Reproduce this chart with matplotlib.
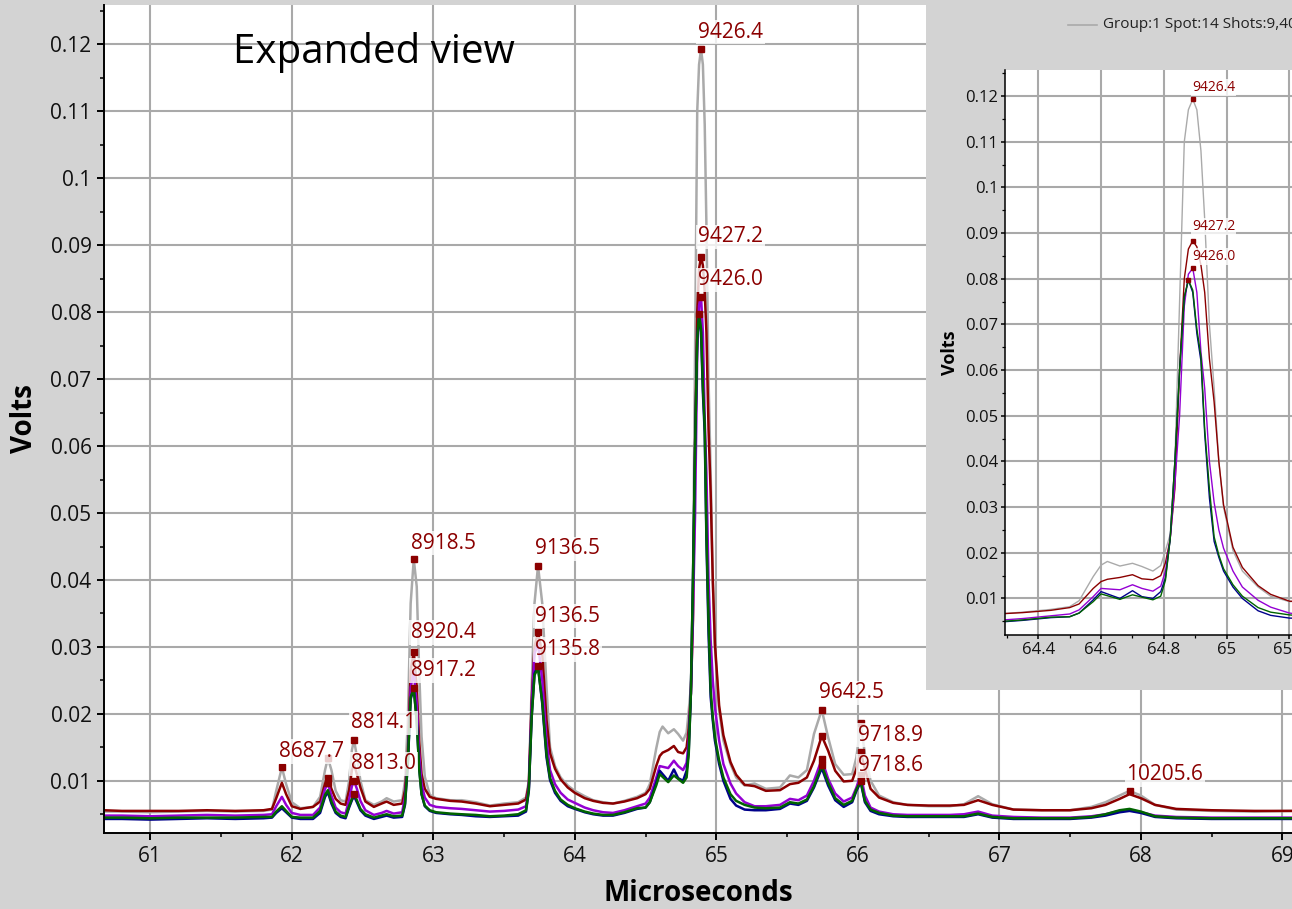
import matplotlib
matplotlib.use("Agg")
import matplotlib.pyplot as plt
from matplotlib.patches import Rectangle
from matplotlib.lines import Line2D
from matplotlib.ticker import MultipleLocator, FormatStrFormatter

plt.rcParams['font.family'] = ['Open Sans', 'DejaVu Sans']

# flight time in microseconds, shared by every trace
time_us = (
    [60.67, 60.8, 61.0, 61.2, 61.4, 61.6, 61.8, 61.86]
    + [61.89, 61.93, 61.96, 62.0, 62.06, 62.15, 62.2]
    + [62.235, 62.255, 62.28, 62.31, 62.345, 62.38, 62.405]
    + [62.425, 62.44, 62.46, 62.485, 62.52, 62.58, 62.635, 62.67, 62.72, 62.78, 62.80]
    + [62.82, 62.84, 62.862, 62.883, 62.90, 62.917, 62.94, 62.975, 63.02, 63.12]
    + [63.2, 63.3, 63.4, 63.5, 63.6, 63.655]
    + [63.675, 63.695, 63.715, 63.74, 63.77, 63.80, 63.825, 63.86, 63.9, 63.95, 64.0, 64.07, 64.13, 64.2, 64.27, 64.35, 64.44]
    + [64.5, 64.53, 64.575, 64.60, 64.62, 64.66, 64.70, 64.73, 64.765, 64.79, 64.805]
    + [64.82, 64.835, 64.85, 64.865, 64.878, 64.892, 64.905, 64.918, 64.93, 64.945, 64.96, 64.975, 64.99, 65.02, 65.05, 65.1, 65.14, 65.2]
    + [65.27, 65.35, 65.45, 65.52, 65.58, 65.64, 65.69, 65.745, 65.79, 65.84, 65.9, 65.96, 65.99, 66.02, 66.05, 66.09]
    + [66.15, 66.25, 66.35, 66.5, 66.65, 66.75, 66.85, 66.95, 67.1, 67.3, 67.5, 67.65, 67.75, 67.85, 67.92, 68.0, 68.1, 68.25, 68.5, 68.8, 69.07]
)

volts_gray = (
    [0.0054, 0.0054, 0.0053, 0.0054, 0.0055, 0.0054, 0.0055, 0.0057]
    + [0.0085, 0.0120, 0.0095, 0.0068, 0.0059, 0.0061, 0.0076]
    + [0.0116, 0.0134, 0.0116, 0.0085, 0.0071, 0.0069, 0.0100]
    + [0.0146, 0.0161, 0.0136, 0.0100, 0.0071, 0.0064, 0.0069, 0.0074, 0.0069, 0.0071, 0.0100]
    + [0.0190, 0.0365, 0.0431, 0.0390, 0.0265, 0.0166, 0.0106, 0.0079, 0.0074, 0.0071]
    + [0.0071, 0.0068, 0.0063, 0.0066, 0.0068, 0.0075]
    + [0.0100, 0.0240, 0.0365, 0.0421, 0.0365, 0.0240, 0.0150, 0.0122, 0.0105, 0.0093, 0.0085, 0.0077, 0.0071, 0.0068, 0.0066, 0.0070, 0.0076]
    + [0.0082, 0.0095, 0.0148, 0.0173, 0.0181, 0.0171, 0.0177, 0.0170, 0.0160, 0.0172, 0.0205]
    + [0.0240, 0.0400, 0.0750, 0.1100, 0.1170, 0.1193, 0.1170, 0.1080, 0.0930, 0.0700, 0.0560, 0.0400, 0.0300, 0.0205, 0.0160, 0.0125, 0.0105, 0.0093]
    + [0.0096, 0.0088, 0.0090, 0.0108, 0.0105, 0.0116, 0.0170, 0.0206, 0.0165, 0.0125, 0.0109, 0.0110, 0.0135, 0.0186, 0.0140, 0.0100]
    + [0.0078, 0.0068, 0.0064, 0.0062, 0.0062, 0.0065, 0.0077, 0.0065, 0.0057, 0.0056, 0.0056, 0.0061, 0.0068, 0.0078, 0.0085, 0.0078, 0.0064, 0.0057, 0.0055, 0.0054, 0.0055]
)

volts_red = (
    [0.0056, 0.0055, 0.0055, 0.0055, 0.0056, 0.0055, 0.0056, 0.0058]
    + [0.0074, 0.0097, 0.0080, 0.0062, 0.0058, 0.0061, 0.0069]
    + [0.0096, 0.0104, 0.0088, 0.0073, 0.0066, 0.0064, 0.0086]
    + [0.0116, 0.0125, 0.0110, 0.0090, 0.0069, 0.0061, 0.0066, 0.0069, 0.0064, 0.0066, 0.0086]
    + [0.0141, 0.0265, 0.0293, 0.0240, 0.0160, 0.0110, 0.0088, 0.0076, 0.0073, 0.0070]
    + [0.0069, 0.0066, 0.0062, 0.0064, 0.0066, 0.0072]
    + [0.0095, 0.0220, 0.0300, 0.0322, 0.0290, 0.0191, 0.0141, 0.0118, 0.0102, 0.0090, 0.0082, 0.0074, 0.0070, 0.0067, 0.0066, 0.0069, 0.0074]
    + [0.0080, 0.0088, 0.0122, 0.0137, 0.0142, 0.0146, 0.0152, 0.0143, 0.0141, 0.0150, 0.0178]
    + [0.0230, 0.0340, 0.0600, 0.0800, 0.0865, 0.0883, 0.0870, 0.0830, 0.0770, 0.0625, 0.0530, 0.0400, 0.0305, 0.0212, 0.0168, 0.0128, 0.0109, 0.0094]
    + [0.0092, 0.0085, 0.0086, 0.0095, 0.0097, 0.0105, 0.0130, 0.0167, 0.0145, 0.0115, 0.0099, 0.0100, 0.0118, 0.0143, 0.0118, 0.0088]
    + [0.0075, 0.0067, 0.0064, 0.0063, 0.0063, 0.0064, 0.0071, 0.0064, 0.0057, 0.0056, 0.0056, 0.0059, 0.0064, 0.0073, 0.0080, 0.0074, 0.0064, 0.0058, 0.0056, 0.0055, 0.0055]
)

volts_purple = (
    [0.0048, 0.0048, 0.0047, 0.0048, 0.0049, 0.0048, 0.0049, 0.0050]
    + [0.0062, 0.0076, 0.0064, 0.0052, 0.0049, 0.0049, 0.0060]
    + [0.0088, 0.0096, 0.0078, 0.0060, 0.0053, 0.0051, 0.0072]
    + [0.0092, 0.0100, 0.0088, 0.0070, 0.0056, 0.0049, 0.0052, 0.0055, 0.0051, 0.0053, 0.0076]
    + [0.0130, 0.0240, 0.0262, 0.0215, 0.0140, 0.0095, 0.0075, 0.0064, 0.0061, 0.0059]
    + [0.0058, 0.0056, 0.0054, 0.0055, 0.0057, 0.0062]
    + [0.0090, 0.0210, 0.0290, 0.0305, 0.0250, 0.0160, 0.0116, 0.0095, 0.0082, 0.0072, 0.0067, 0.0060, 0.0056, 0.0053, 0.0052, 0.0056, 0.0062]
    + [0.0066, 0.0075, 0.0104, 0.0122, 0.0121, 0.0119, 0.0130, 0.0122, 0.0116, 0.0127, 0.0160]
    + [0.0230, 0.0350, 0.0500, 0.0740, 0.0810, 0.0823, 0.0770, 0.0640, 0.0560, 0.0400, 0.0310, 0.0250, 0.0210, 0.0160, 0.0125, 0.0096, 0.0081, 0.0068]
    + [0.0062, 0.0062, 0.0064, 0.0073, 0.0071, 0.0078, 0.0100, 0.0132, 0.0103, 0.0081, 0.0069, 0.0075, 0.0090, 0.0109, 0.0078, 0.0060]
    + [0.0054, 0.0050, 0.0049, 0.0049, 0.0049, 0.0050, 0.0054, 0.0048, 0.0046, 0.0045, 0.0045, 0.0047, 0.0050, 0.0055, 0.0056, 0.0053, 0.0048, 0.0046, 0.0045, 0.0045, 0.0045]
)

volts_blue = (
    [0.0043, 0.0043, 0.0042, 0.0043, 0.0044, 0.0043, 0.0044, 0.0045]
    + [0.0052, 0.0059, 0.0053, 0.0045, 0.0043, 0.0043, 0.0052]
    + [0.0076, 0.0083, 0.0066, 0.0052, 0.0046, 0.0044, 0.0060]
    + [0.0071, 0.0077, 0.0068, 0.0056, 0.0048, 0.0043, 0.0046, 0.0048, 0.0045, 0.0046, 0.0064]
    + [0.0125, 0.0222, 0.0238, 0.0190, 0.0120, 0.0080, 0.0062, 0.0055, 0.0052, 0.0050]
    + [0.0049, 0.0047, 0.0046, 0.0047, 0.0048, 0.0054]
    + [0.0085, 0.0195, 0.0260, 0.0272, 0.0215, 0.0135, 0.0101, 0.0082, 0.0070, 0.0062, 0.0058, 0.0053, 0.0050, 0.0048, 0.0048, 0.0052, 0.0058]
    + [0.0060, 0.0068, 0.0097, 0.0115, 0.0110, 0.0100, 0.0117, 0.0104, 0.0100, 0.0115, 0.0145]
    + [0.0230, 0.0400, 0.0600, 0.0760, 0.0797, 0.0770, 0.0680, 0.0620, 0.0460, 0.0320, 0.0225, 0.0190, 0.0160, 0.0125, 0.0100, 0.0073, 0.0063, 0.0057]
    + [0.0056, 0.0056, 0.0058, 0.0066, 0.0064, 0.0070, 0.0090, 0.0119, 0.0093, 0.0071, 0.0061, 0.0068, 0.0085, 0.0098, 0.0068, 0.0055]
    + [0.0050, 0.0047, 0.0046, 0.0046, 0.0046, 0.0046, 0.0050, 0.0045, 0.0043, 0.0043, 0.0043, 0.0045, 0.0048, 0.0053, 0.0055, 0.0052, 0.0046, 0.0044, 0.0043, 0.0043, 0.0043]
)

volts_green = (
    [0.0045, 0.0045, 0.0044, 0.0045, 0.0045, 0.0045, 0.0046, 0.0046]
    + [0.0054, 0.0062, 0.0055, 0.0046, 0.0045, 0.0045, 0.0055]
    + [0.0079, 0.0086, 0.0069, 0.0054, 0.0048, 0.0046, 0.0062]
    + [0.0073, 0.0080, 0.0071, 0.0058, 0.0050, 0.0045, 0.0048, 0.0050, 0.0047, 0.0048, 0.0066]
    + [0.0128, 0.0225, 0.0238, 0.0188, 0.0118, 0.0080, 0.0063, 0.0056, 0.0053, 0.0051]
    + [0.0050, 0.0049, 0.0047, 0.0048, 0.0050, 0.0056]
    + [0.0087, 0.0195, 0.0258, 0.0268, 0.0218, 0.0140, 0.0104, 0.0085, 0.0072, 0.0064, 0.0059, 0.0054, 0.0051, 0.0049, 0.0049, 0.0053, 0.0059]
    + [0.0060, 0.0068, 0.0093, 0.0110, 0.0106, 0.0098, 0.0108, 0.0103, 0.0097, 0.0105, 0.0140]
    + [0.0230, 0.0400, 0.0600, 0.0760, 0.0797, 0.0775, 0.0690, 0.0630, 0.0470, 0.0340, 0.0235, 0.0195, 0.0165, 0.0130, 0.0105, 0.0080, 0.0070, 0.0064]
    + [0.0060, 0.0059, 0.0060, 0.0068, 0.0066, 0.0072, 0.0092, 0.0123, 0.0097, 0.0074, 0.0064, 0.0070, 0.0087, 0.0100, 0.0070, 0.0057]
    + [0.0052, 0.0048, 0.0047, 0.0047, 0.0047, 0.0047, 0.0051, 0.0046, 0.0044, 0.0044, 0.0044, 0.0046, 0.0050, 0.0056, 0.0058, 0.0054, 0.0047, 0.0045, 0.0044, 0.0044, 0.0044]
)

# peak picks: which trace and at what time
mark_trace = ['gray',
              'gray', 'red', 'purple',
              'gray', 'purple', 'green',
              'gray', 'red', 'green',
              'gray', 'red', 'blue',
              'gray', 'red', 'purple', 'blue',
              'gray', 'red', 'purple', 'green',
              'gray', 'red', 'purple', 'green',
              'gray']
mark_time = [61.93,
             62.255, 62.255, 62.255,
             62.44, 62.44, 62.44,
             62.862, 62.862, 62.862,
             63.74, 63.74, 63.74,
             64.892, 64.892, 64.892, 64.878,
             65.745, 65.745, 65.745, 65.745,
             66.02, 66.02, 66.02, 66.02,
             67.92]

# mass labels attached to some of the picks
label_text = ['8687.7', '8814.1', '8813.0', '8918.5', '8920.4', '8917.2',
              '9136.5', '9136.5', '9135.8', '9426.4', '9427.2', '9426.0',
              '9642.5', '9718.9', '9718.6', '10205.6']
label_trace = ['gray', 'gray', 'purple', 'gray', 'red', 'green',
               'gray', 'red', 'blue', 'gray', 'red', 'purple',
               'gray', 'red', 'purple', 'gray']
label_time = [61.93, 62.44, 62.44, 62.862, 62.862, 62.862,
              63.74, 63.74, 63.74, 64.892, 64.892, 64.892,
              65.745, 66.02, 66.02, 67.92]
label_rise_px = [16, 17, 17, 16, 19, 18, 17, 16, 16, 17, 20, 17, 17, 17, 9, 16]

legend_text = 'Group:1 Spot:14 Shots:9,400'
legend_text_prev = 'Group:1 Spot:13 Shots:9,400'

traces = {
    'gray': volts_gray,
    'red': volts_red,
    'purple': volts_purple,
    'blue': volts_blue,
    'green': volts_green,
}
for v in traces.values():
    assert len(v) == len(time_us)

colors = {'gray': '#aaaaaa', 'red': '#8b0000', 'purple': '#9400d3',
          'blue': '#00008b', 'green': '#006400'}
bg = '#d3d3d3'
grid_c = '#a9a9a9'
peak_c = '#8b0000'


def value_at(trace, t):
    return traces[trace][time_us.index(t)]


def style_axes(a, major_len, minor_len, width, size, pad):
    a.set_facecolor('white')
    for s in ['top', 'right']:
        a.spines[s].set_visible(False)
    for s in ['left', 'bottom']:
        a.spines[s].set_linewidth(width)
        a.spines[s].set_color('black')
    a.grid(True, which='major', color=grid_c, lw=1.5)
    a.set_axisbelow(True)
    a.tick_params(which='major', length=major_len, width=width, labelsize=size,
                  pad=pad, colors='black', labelcolor='#111111')
    a.tick_params(which='minor', length=minor_len, width=width * 0.8)
    a.xaxis.set_major_formatter(FormatStrFormatter('%g'))
    a.yaxis.set_major_formatter(FormatStrFormatter('%g'))
    a.yaxis.set_major_locator(MultipleLocator(0.01))
    a.yaxis.set_minor_locator(MultipleLocator(0.005))


def draw_traces(a, lw, ms, fs, rise_scale, dx):
    for name in ['gray', 'red', 'purple', 'blue', 'green']:
        a.plot(time_us, traces[name], color=colors[name], lw=lw, zorder=2)
    mx = mark_time
    my = [value_at(tr, t) for tr, t in zip(mark_trace, mark_time)]
    a.plot(mx, my, ls='none', marker='s', ms=ms, color=peak_c, zorder=2.5)
    for txt, tr, t, rise in zip(label_text, label_trace, label_time, label_rise_px):
        a.annotate(txt, xy=(t, value_at(tr, t)),
                   xytext=(dx * 0.72, rise * rise_scale * 0.72),
                   textcoords='offset points', ha='left', va='center',
                   fontsize=fs, color=peak_c, zorder=3,
                   bbox=dict(boxstyle='square,pad=0.08', fc='white',
                             ec='none', alpha=0.8))


W, H = 1292, 909
fig = plt.figure(figsize=(W / 100, H / 100), dpi=100, facecolor=bg)

# full trace view
ax = fig.add_axes([104 / W, 1 - 833 / H, (W - 104) / W, 828 / H])
style_axes(ax, 5, 3, 1.4, 15, 4)
ax.set_xlim(60.673, 69.068)
ax.set_ylim(0.0022, 0.1259)
ax.xaxis.set_major_locator(MultipleLocator(1))
ax.xaxis.set_minor_locator(MultipleLocator(0.5))
draw_traces(ax, 1.8, 5, 15, 1.0, -3)
ax.set_xlabel('Microseconds', fontsize=20, fontweight='bold')
ax.set_ylabel('Volts', fontsize=20, fontweight='bold')
ax.xaxis.set_label_coords(0.5, -0.0725)
ax.xaxis.label.set_va('center')
ax.yaxis.set_label_coords(-0.0665, 0.5)
ax.yaxis.label.set_va('center')
ax.text(0.1086, 0.943, 'Expanded view', transform=ax.transAxes,
        fontsize=29, va='center', ha='left', color='black')

# grey panel holding the zoomed window and its legend
fig.add_artist(Rectangle((926 / W, 1 - 690 / H), (W - 926) / W, 690 / H,
                         transform=fig.transFigure, facecolor=bg,
                         edgecolor='none', zorder=1))
for y_px, txt in [(-8, legend_text_prev), (25, legend_text)]:
    fig.add_artist(Line2D([1068 / W, 1097 / W], [1 - y_px / H] * 2,
                          transform=fig.transFigure, color='#aaaaaa', lw=1.2,
                          zorder=3))
    fig.text(1103 / W, 1 - y_px / H, txt, fontsize=11, va='center',
             ha='left', color='#222222', zorder=3)

ins = fig.add_axes([1005 / W, 1 - 635 / H, 287 / W, 565 / H])
ins.set_zorder(2)
style_axes(ins, 3, 2, 1.1, 12, 2)
ins.set_xlim(64.294, 65.208)
ins.set_ylim(0.0020, 0.1257)
ins.xaxis.set_major_locator(MultipleLocator(0.2))
ins.xaxis.set_minor_locator(MultipleLocator(0.1))
draw_traces(ins, 1.0, 3.5, 10, 0.7, -1)
ins.set_ylabel('Volts', fontsize=13, fontweight='bold')
ins.yaxis.set_label_coords(-0.19, 0.5)
ins.yaxis.label.set_va('center')

fig.savefig('out.png', dpi=100, facecolor=bg)
